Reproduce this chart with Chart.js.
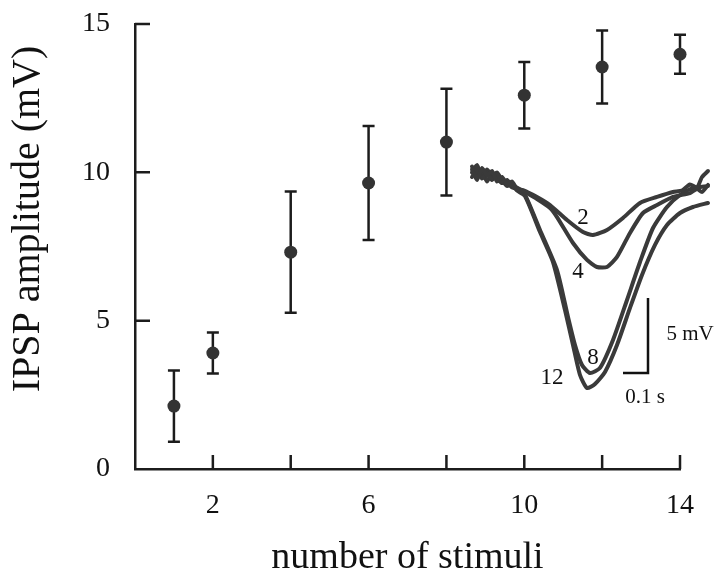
<!DOCTYPE html>
<html><head><meta charset="utf-8">
<script src="https://cdn.jsdelivr.net/npm/chart.js@4"></script>
<style>html,body{margin:0;padding:0;background:#fff}</style>
</head><body>
<canvas id="c" width="725" height="577"></canvas>
<script>
// ---- main data ----
const stimuli  = [1, 2, 4, 6, 8, 10, 12, 14];
const ipspMean = [2.12, 3.91, 7.31, 9.64, 11.02, 12.6, 13.55, 13.98];
const ipspErr  = [1.2, 0.69, 2.04, 1.92, 1.8, 1.12, 1.23, 0.66];
const xTickValues = [2, 4, 6, 8, 10, 12, 14];
const xTickLabels = [2, 6, 10, 14];
const yTickValues = [0, 5, 10, 15];
const xTitle = 'number of stimuli';
const yTitle = 'IPSP amplitude (mV)';

// ---- inset traces: time (s) vs potential change (mV) ----
const trace2T = [0,0.02,0.04,0.06,0.08,0.1,0.12,0.14,0.16,0.18,0.204,0.26,0.312,0.38,0.444,0.484,0.54,0.604,0.672,0.74,0.804,0.84,0.872,0.9,0.92,0.944];
const trace2V = [0.5,-0.2,0.6,0.1,0.4,-0.3,0.0,-0.5,-0.3,-0.8,-0.87,-1.33,-1.87,-2.87,-3.67,-3.87,-3.53,-2.73,-1.73,-1.33,-1.0,-0.9,-0.5,-0.7,0.0,0.4];
const trace4T = [0,0.02,0.04,0.06,0.08,0.1,0.12,0.14,0.16,0.18,0.204,0.26,0.312,0.34,0.404,0.46,0.5,0.54,0.58,0.632,0.684,0.74,0.804,0.872,0.9,0.92,0.944];
const trace4V = [0.0,0.5,-0.1,0.3,-0.2,0.2,-0.4,-0.2,-0.6,-0.7,-0.93,-1.47,-2.07,-2.67,-4.4,-5.53,-6.0,-6.0,-5.33,-3.73,-2.4,-1.87,-1.33,-1.07,-0.8,-1.0,-0.53];
const trace8T = [0,0.02,0.04,0.06,0.08,0.1,0.12,0.14,0.16,0.18,0.212,0.272,0.34,0.384,0.412,0.44,0.472,0.512,0.564,0.62,0.672,0.724,0.78,0.832,0.884,0.944];
const trace8V = [0.7,0.1,0.4,-0.3,0.3,-0.1,-0.4,-0.3,-0.7,-0.8,-1.2,-3.53,-6.2,-9.33,-11.2,-12.53,-13.07,-12.73,-10.87,-8.2,-5.67,-3.4,-2.0,-1.2,-0.73,-0.6];
const trace12T = [0,0.02,0.04,0.06,0.08,0.1,0.12,0.14,0.16,0.18,0.212,0.272,0.324,0.372,0.404,0.432,0.46,0.492,0.532,0.58,0.632,0.68,0.732,0.78,0.832,0.884,0.944];
const trace12V = [0.3,0.8,0.0,0.5,0.1,0.3,-0.2,-0.6,-0.5,-0.9,-1.27,-3.67,-5.67,-8.87,-11.2,-13.2,-14.07,-13.8,-13.0,-11.2,-8.73,-6.53,-4.53,-3.2,-2.4,-2.0,-1.73];
const scaleBarT = [0.604, 0.704, 0.704];
const scaleBarV = [-13.07, -13.07, -8.07];
const traceLabels = [
  {text:'2',  t:0.444, v:-2.73},
  {text:'4',  t:0.424, v:-6.33},
  {text:'8',  t:0.484, v:-12.07},
  {text:'12', t:0.32,  v:-13.4}
];
const barLabels = [
  {text:'5 mV',  t:0.872, v:-10.53},
  {text:'0.1 s', t:0.692, v:-14.73}
];

const pts = (xs, ys) => xs.map((x, i) => ({x, y: ys[i]}));
const FONT = "'Liberation Serif', 'Times New Roman', serif";
const INK = '#1c1c1c';
const TRACE = '#3a3a3a';

const decor = {
  id: 'decor',
  beforeDatasetsDraw(chart) {
    const {ctx, scales: {x, y}} = chart;
    ctx.save();
    ctx.strokeStyle = INK;
    ctx.lineWidth = 2.5;
    ctx.lineCap = 'butt';
    ctx.beginPath();
    stimuli.forEach((s, i) => {
      const px = x.getPixelForValue(s);
      const top = y.getPixelForValue(ipspMean[i] + ipspErr[i]);
      const bot = y.getPixelForValue(ipspMean[i] - ipspErr[i]);
      ctx.moveTo(px, top); ctx.lineTo(px, bot);
      ctx.moveTo(px - 6, top); ctx.lineTo(px + 6, top);
      ctx.moveTo(px - 6, bot); ctx.lineTo(px + 6, bot);
    });
    ctx.stroke();
    // inward tick marks
    ctx.beginPath();
    xTickValues.forEach(v => {
      const px = x.getPixelForValue(v);
      ctx.moveTo(px, y.bottom); ctx.lineTo(px, y.bottom - 14);
    });
    yTickValues.forEach(v => {
      if (v === 0) return;
      const py = y.getPixelForValue(v);
      ctx.moveTo(x.left, py); ctx.lineTo(x.left + 15, py);
    });
    ctx.stroke();
    // y axis title
    ctx.fillStyle = '#111';
    ctx.font = '40px ' + FONT;
    ctx.textAlign = 'center';
    ctx.textBaseline = 'middle';
    ctx.translate(28, 219);
    ctx.rotate(-Math.PI / 2);
    ctx.fillText(yTitle, 0, 0);
    ctx.restore();
  },
  afterDatasetsDraw(chart) {
    const {ctx, scales: {x2, y2}} = chart;
    ctx.save();
    ctx.fillStyle = '#111';
    ctx.font = '23px ' + FONT;
    ctx.textAlign = 'center';
    ctx.textBaseline = 'middle';
    traceLabels.forEach(l => ctx.fillText(l.text, x2.getPixelForValue(l.t), y2.getPixelForValue(l.v)));
    ctx.font = '21px ' + FONT;
    barLabels.forEach(l => ctx.fillText(l.text, x2.getPixelForValue(l.t), y2.getPixelForValue(l.v)));
    ctx.restore();
  }
};

const traceDs = (t, v) => ({
  type: 'line', data: pts(t, v), xAxisID: 'x2', yAxisID: 'y2',
  borderColor: TRACE, borderWidth: 4, pointRadius: 0, tension: 0.2,
  fill: false, clip: false, borderJoinStyle: 'round', borderCapStyle: 'round'
});

new Chart(document.getElementById('c'), {
  type: 'scatter',
  data: {
    datasets: [
      {
        data: pts(stimuli, ipspMean), xAxisID: 'x', yAxisID: 'y',
        pointRadius: 6.5, pointBackgroundColor: '#333', pointBorderColor: '#333', pointBorderWidth: 0,
        clip: false
      },
      traceDs(trace2T, trace2V),
      traceDs(trace4T, trace4V),
      traceDs(trace8T, trace8V),
      traceDs(trace12T, trace12V),
      {
        type: 'line', data: pts(scaleBarT, scaleBarV), xAxisID: 'x2', yAxisID: 'y2',
        borderColor: '#111', borderWidth: 2.5, pointRadius: 0, tension: 0, clip: false,
        borderCapStyle: 'butt', borderJoinStyle: 'miter'
      }
    ]
  },
  options: {
    responsive: false,
    animation: false,
    devicePixelRatio: 1,
    layout: {padding: {top: 24, right: 45, left: 0, bottom: 0}},
    plugins: {legend: {display: false}, tooltip: {enabled: false}},
    scales: {
      x: {
        type: 'linear', min: 0, max: 14,
        afterFit(s) { s.height = 108; s.paddingLeft = 0; s.paddingRight = 0; },
        afterBuildTicks(s) { s.ticks = xTickLabels.map(v => ({value: v})); },
        grid: {display: false, drawTicks: false},
        border: {display: true, color: INK, width: 2.5},
        ticks: {color: '#111', font: {family: FONT, size: 28}, padding: 20, maxRotation: 0, autoSkip: false},
        title: {display: true, text: xTitle, color: '#111',
                font: {family: FONT, size: 38, lineHeight: 1.0}, padding: {top: 0, bottom: 0}}
      },
      y: {
        type: 'linear', min: 0, max: 15,
        afterFit(s) { s.width = 135; s.paddingTop = 0; s.paddingBottom = 0; },
        afterBuildTicks(s) { s.ticks = yTickValues.map(v => ({value: v})); },
        grid: {display: false, drawTicks: false},
        border: {display: true, color: INK, width: 2.5},
        ticks: {color: '#111', font: {family: FONT, size: 28}, padding: 25},
        title: {display: false}
      },
      // inset frame: 0.1 s = 25 px, 5 mV = 75 px; bounds set after data limits so no trace point is dropped
      x2: {type: 'linear', display: false, bounds: 'data',
           afterDataLimits(s) { s.min = -1.348; s.max = 0.832; }},
      y2: {type: 'linear', display: false, bounds: 'data',
           afterDataLimits(s) { s.min = -19.467; s.max = 10.2; }}
    }
  },
  plugins: [decor]
});
</script>
</body></html>
